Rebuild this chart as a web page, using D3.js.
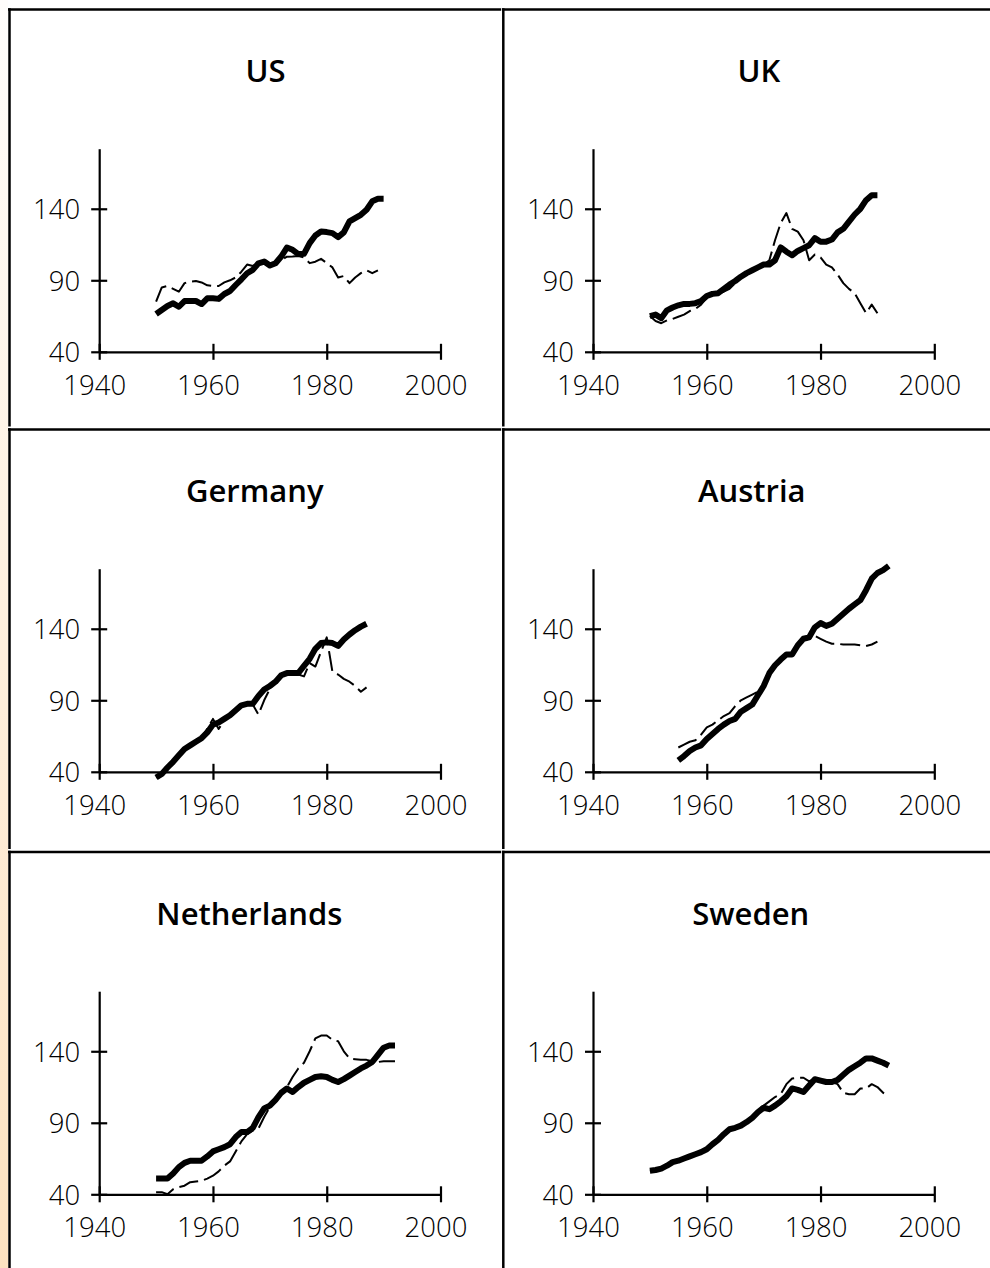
<!DOCTYPE html>
<html>
<head>
<meta charset="utf-8">
<script src="https://cdn.jsdelivr.net/npm/d3@7"></script>
<style>
  html, body { margin: 0; padding: 0; background: #ffffff; }
  svg { display: block; }
</style>
</head>
<body>
<svg id="chart" width="990" height="1268"></svg>
<script>
// ---- Data: annual index series for six countries (two series each) ----
const titles = ["US", "UK", "Germany", "Austria", "Netherlands", "Sweden"];
const xTicks = [1940, 1960, 1980, 2000];
const yTicks = [40, 90, 140];

const usMainStart = 1950;
const usMain = [66.4, 69.2, 72, 73.9, 71.5, 75.5, 75.5, 75.5, 73.4, 77.4,
  77.4, 77, 80.4, 82.5, 86.7, 90.7, 94.9, 97.3, 101.9, 103.1,
  100.3, 101.9, 106.6, 112.9, 111.3, 108.3, 108.5, 116, 121.3, 124.1,
  123.7, 123, 120.2, 123.5, 131.2, 133.5, 135.8, 139.3, 145.2, 147, 147];
const usDashStart = 1950;
const usDash = [75, 85, 86, 84, 82, 88, 89, 89.5, 88.5, 86.5,
  86, 86, 88.5, 90, 92, 96, 101, 100, 102, 103,
  101, 102, 104, 106.5, 106.6, 107, 106, 102, 103, 105,
  102, 99, 92, 93, 88, 92, 95, 97, 95, 97];

const ukMainStart = 1950;
const ukMain = [65, 66, 63.5, 69, 71, 72.5, 73.5, 73.5, 74, 75.5,
  79, 80.5, 81, 84, 87, 89.5, 92.5, 95, 97, 99,
  101, 101, 104, 113, 110, 107.5, 110.5, 112.5, 114.5, 119.5,
  117, 117, 118.5, 123.5, 126, 131, 136, 140, 146, 149.5, 149.5];
const ukDashStart = 1950;
const ukDash = [65, 61.5, 60, 62, 63, 64.5, 66, 68.5, 70, 73,
  78, 80, 81, 82, 84, 88, 92, 94.5, 97, 99,
  101, 104, 118, 130, 137, 126, 124, 118, 104, 108,
  106, 101, 99, 94, 88, 84, 81, 74, 67, 73, 67];

const deMainStart = 1950;
const deMain = [36, 38.5, 43, 47, 51.5, 56, 58.5, 61, 63.5, 67.5,
  73, 74.5, 77, 79.5, 83, 86.5, 87.5, 87.5, 93, 97.5,
  100, 103, 107.5, 109, 109, 109, 114, 119, 126, 130,
  130.5, 130, 128, 132.5, 136, 139, 141.5, 143.5];
const deDashStart = 1950;
const deDash = [36, 38, 43, 47, 52, 56, 58.5, 61, 64, 70,
  77, 70, 76, 79, 83, 86, 88, 87, 80, 90,
  98, 103, 107, 108, 108, 108, 106.7, 116, 113.6, 124,
  134, 110, 108, 105, 103, 100, 96, 99];

const atMainStart = 1955;
const atMain = [48, 51, 54.5, 57, 58.5, 63, 66.5, 70, 73, 75.5,
  77, 82, 84.5, 87, 93.5, 100, 109, 114.5, 118.5, 122,
  122, 128.5, 133, 134, 141, 144, 142, 143.5, 147, 150.5,
  154, 157, 160, 167, 175, 179, 181, 184];
const atDashStart = 1955;
const atDash = [57, 59, 61, 62, 66, 71, 73, 76, 79, 81,
  86, 90, 92, 94, 96, 101, 108, 114, 118, 121,
  124, 129, 132, 133, 135, 133, 131, 129.5, 129.5, 129,
  129, 129, 128.5, 128, 129, 131];

const nlMainStart = 1950;
const nlMain = [51, 51, 51, 54.5, 59, 62, 63.5, 63.5, 63.5, 66.5,
  70, 71.5, 73, 75, 80, 83.5, 83.5, 86.5, 94, 100,
  102, 106, 111, 114, 111.5, 115, 118, 120, 122, 122.5,
  122, 120, 118.5, 120.5, 123, 125.5, 128, 130, 132.5, 137.5,
  142.5, 144, 144];
const nlDashStart = 1950;
const nlDash = [41.5, 41.5, 40, 43.5, 45, 46, 48.5, 49, 49.5, 51,
  53, 56, 60, 63, 70, 77, 82, 84.5, 86, 94,
  101, 105, 110, 115, 122, 128, 132, 140, 149, 151,
  151, 148, 147, 140, 135, 134.5, 134, 134, 133, 132.5,
  133, 133, 133];

const seMainStart = 1950;
const seMain = [56.5, 57, 58, 60, 62.5, 63.5, 65, 66.5, 68, 69.5,
  71.5, 75, 78, 82, 85.5, 86.5, 88, 90.5, 93.5, 97.5,
  100.5, 99.5, 102, 105, 108.5, 114, 113, 111.5, 116, 120.5,
  119.5, 118.5, 118.5, 120, 123.5, 127, 129.5, 132, 135, 135,
  133.5, 132, 130];
const seDashStart = 1950;
const seDash = [56.5, 57, 58.5, 60.5, 62.5, 63.5, 65, 66.5, 68, 69.5,
  71.5, 75, 78.5, 82, 85.5, 86.5, 88.5, 91, 94, 99,
  102, 105, 108, 110, 117, 121, 121.5, 121.5, 119, 120.5,
  120, 118.5, 118.5, 117, 111, 110, 110, 114, 114, 117,
  115, 111, 109];

const panels = [
  { title: titles[0], main: usMain, mainStart: usMainStart, dash: usDash, dashStart: usDashStart },
  { title: titles[1], main: ukMain, mainStart: ukMainStart, dash: ukDash, dashStart: ukDashStart },
  { title: titles[2], main: deMain, mainStart: deMainStart, dash: deDash, dashStart: deDashStart },
  { title: titles[3], main: atMain, mainStart: atMainStart, dash: atDash, dashStart: atDashStart },
  { title: titles[4], main: nlMain, mainStart: nlMainStart, dash: nlDash, dashStart: nlDashStart },
  { title: titles[5], main: seMain, mainStart: seMainStart, dash: seDash, dashStart: seDashStart }
];

// ---- Layout ----
const W = 990, H = 1268;
const colLeft = [9.5, 503.3];
const rowTop = [9.5, 429.5, 852];
const tickFont = "Open Sans, sans-serif";
const titleFont = "Open Sans, sans-serif";

const svg = d3.select("#chart");

// Warm tinted strip along the left edge
const defs = svg.append("defs");
const grad = defs.append("linearGradient")
  .attr("id", "edgeTint").attr("x1", 0).attr("y1", 0).attr("x2", 0).attr("y2", 1);
grad.append("stop").attr("offset", "0%").attr("stop-color", "#fffdfb");
grad.append("stop").attr("offset", "100%").attr("stop-color", "#fde2c0");
svg.append("rect").attr("x", 0).attr("y", 0).attr("width", 8).attr("height", H)
  .attr("fill", "url(#edgeTint)");

panels.forEach((p, i) => {
  const col = i % 2, row = Math.floor(i / 2);
  const cx = colLeft[col], cy = rowTop[row];
  const cellRight = col === 0 ? 501 : W;
  const cellBottom = row < 2 ? rowTop[row + 1] - 3 : H;
  const g = svg.append("g");

  // Cell frame: top and left rules
  g.append("line")
    .attr("x1", cx - 1.5).attr("x2", cellRight).attr("y1", cy).attr("y2", cy)
    .attr("stroke", "#000").attr("stroke-width", 2.5);
  g.append("line")
    .attr("x1", cx).attr("x2", cx).attr("y1", cy - 1.2).attr("y2", cellBottom)
    .attr("stroke", "#000").attr("stroke-width", 2.5);

  const x = d3.scaleLinear().domain([1940, 2000]).range([cx + 89.7, cx + 431]);
  const y = d3.scaleLinear().domain([40, 182]).range([cy + 342.3, cy + 139.2]);

  // Title, centred over the plot and nudged left in proportion to its width
  const plotMid = (x(1940) + x(2000)) / 2;
  const title = g.append("text")
    .attr("y", cy + 72.5)
    .attr("text-anchor", "middle")
    .attr("font-family", titleFont).attr("font-size", 31).attr("font-weight", 600)
    .attr("fill", "#000")
    .text(p.title);
  const tw = title.node().getComputedTextLength();
  title.attr("x", plotMid - 0.11 * tw);

  // Y axis with ticks crossing the spine
  g.append("g")
    .attr("transform", `translate(${x(1940)},0)`)
    .call(d3.axisLeft(y).tickValues(yTicks).tickSizeInner(8).tickSizeOuter(0).tickFormat(d3.format("d")))
    .call(a => {
      a.attr("font-family", tickFont).attr("font-size", 27.5).attr("font-weight", 300);
      a.select(".domain").attr("stroke", "#000").attr("stroke-width", 2.2);
      a.selectAll(".tick line").attr("x1", 8).attr("stroke", "#000").attr("stroke-width", 2.2);
      a.selectAll(".tick text").attr("x", -19).attr("dy", "0.36em").attr("fill", "#000");
    });

  // X axis with ticks crossing the spine
  g.append("g")
    .attr("transform", `translate(0,${y(40)})`)
    .call(d3.axisBottom(x).tickValues(xTicks).tickSizeInner(8).tickSizeOuter(0).tickFormat(d3.format("d")))
    .call(a => {
      a.attr("font-family", tickFont).attr("font-size", 27.5).attr("font-weight", 300);
      a.select(".domain").attr("stroke", "#000").attr("stroke-width", 2.2);
      a.selectAll(".tick line").attr("y1", -8).attr("stroke", "#000").attr("stroke-width", 2.2);
      a.selectAll(".tick text").attr("x", -5).attr("y", 43).attr("dy", 0).attr("fill", "#000");
    });

  const lineFor = start => d3.line()
    .x((d, k) => x(start + k))
    .y(d => y(d));

  // Thick solid series
  g.append("path")
    .datum(p.main)
    .attr("d", lineFor(p.mainStart))
    .attr("fill", "none").attr("stroke", "#000")
    .attr("stroke-width", 6).attr("stroke-linejoin", "round");

  // Thin dashed series
  g.append("path")
    .datum(p.dash)
    .attr("d", lineFor(p.dashStart))
    .attr("fill", "none").attr("stroke", "#000")
    .attr("stroke-width", 2).attr("stroke-linejoin", "round")
    .attr("stroke-dasharray", "20,6");
});
</script>
</body>
</html>
